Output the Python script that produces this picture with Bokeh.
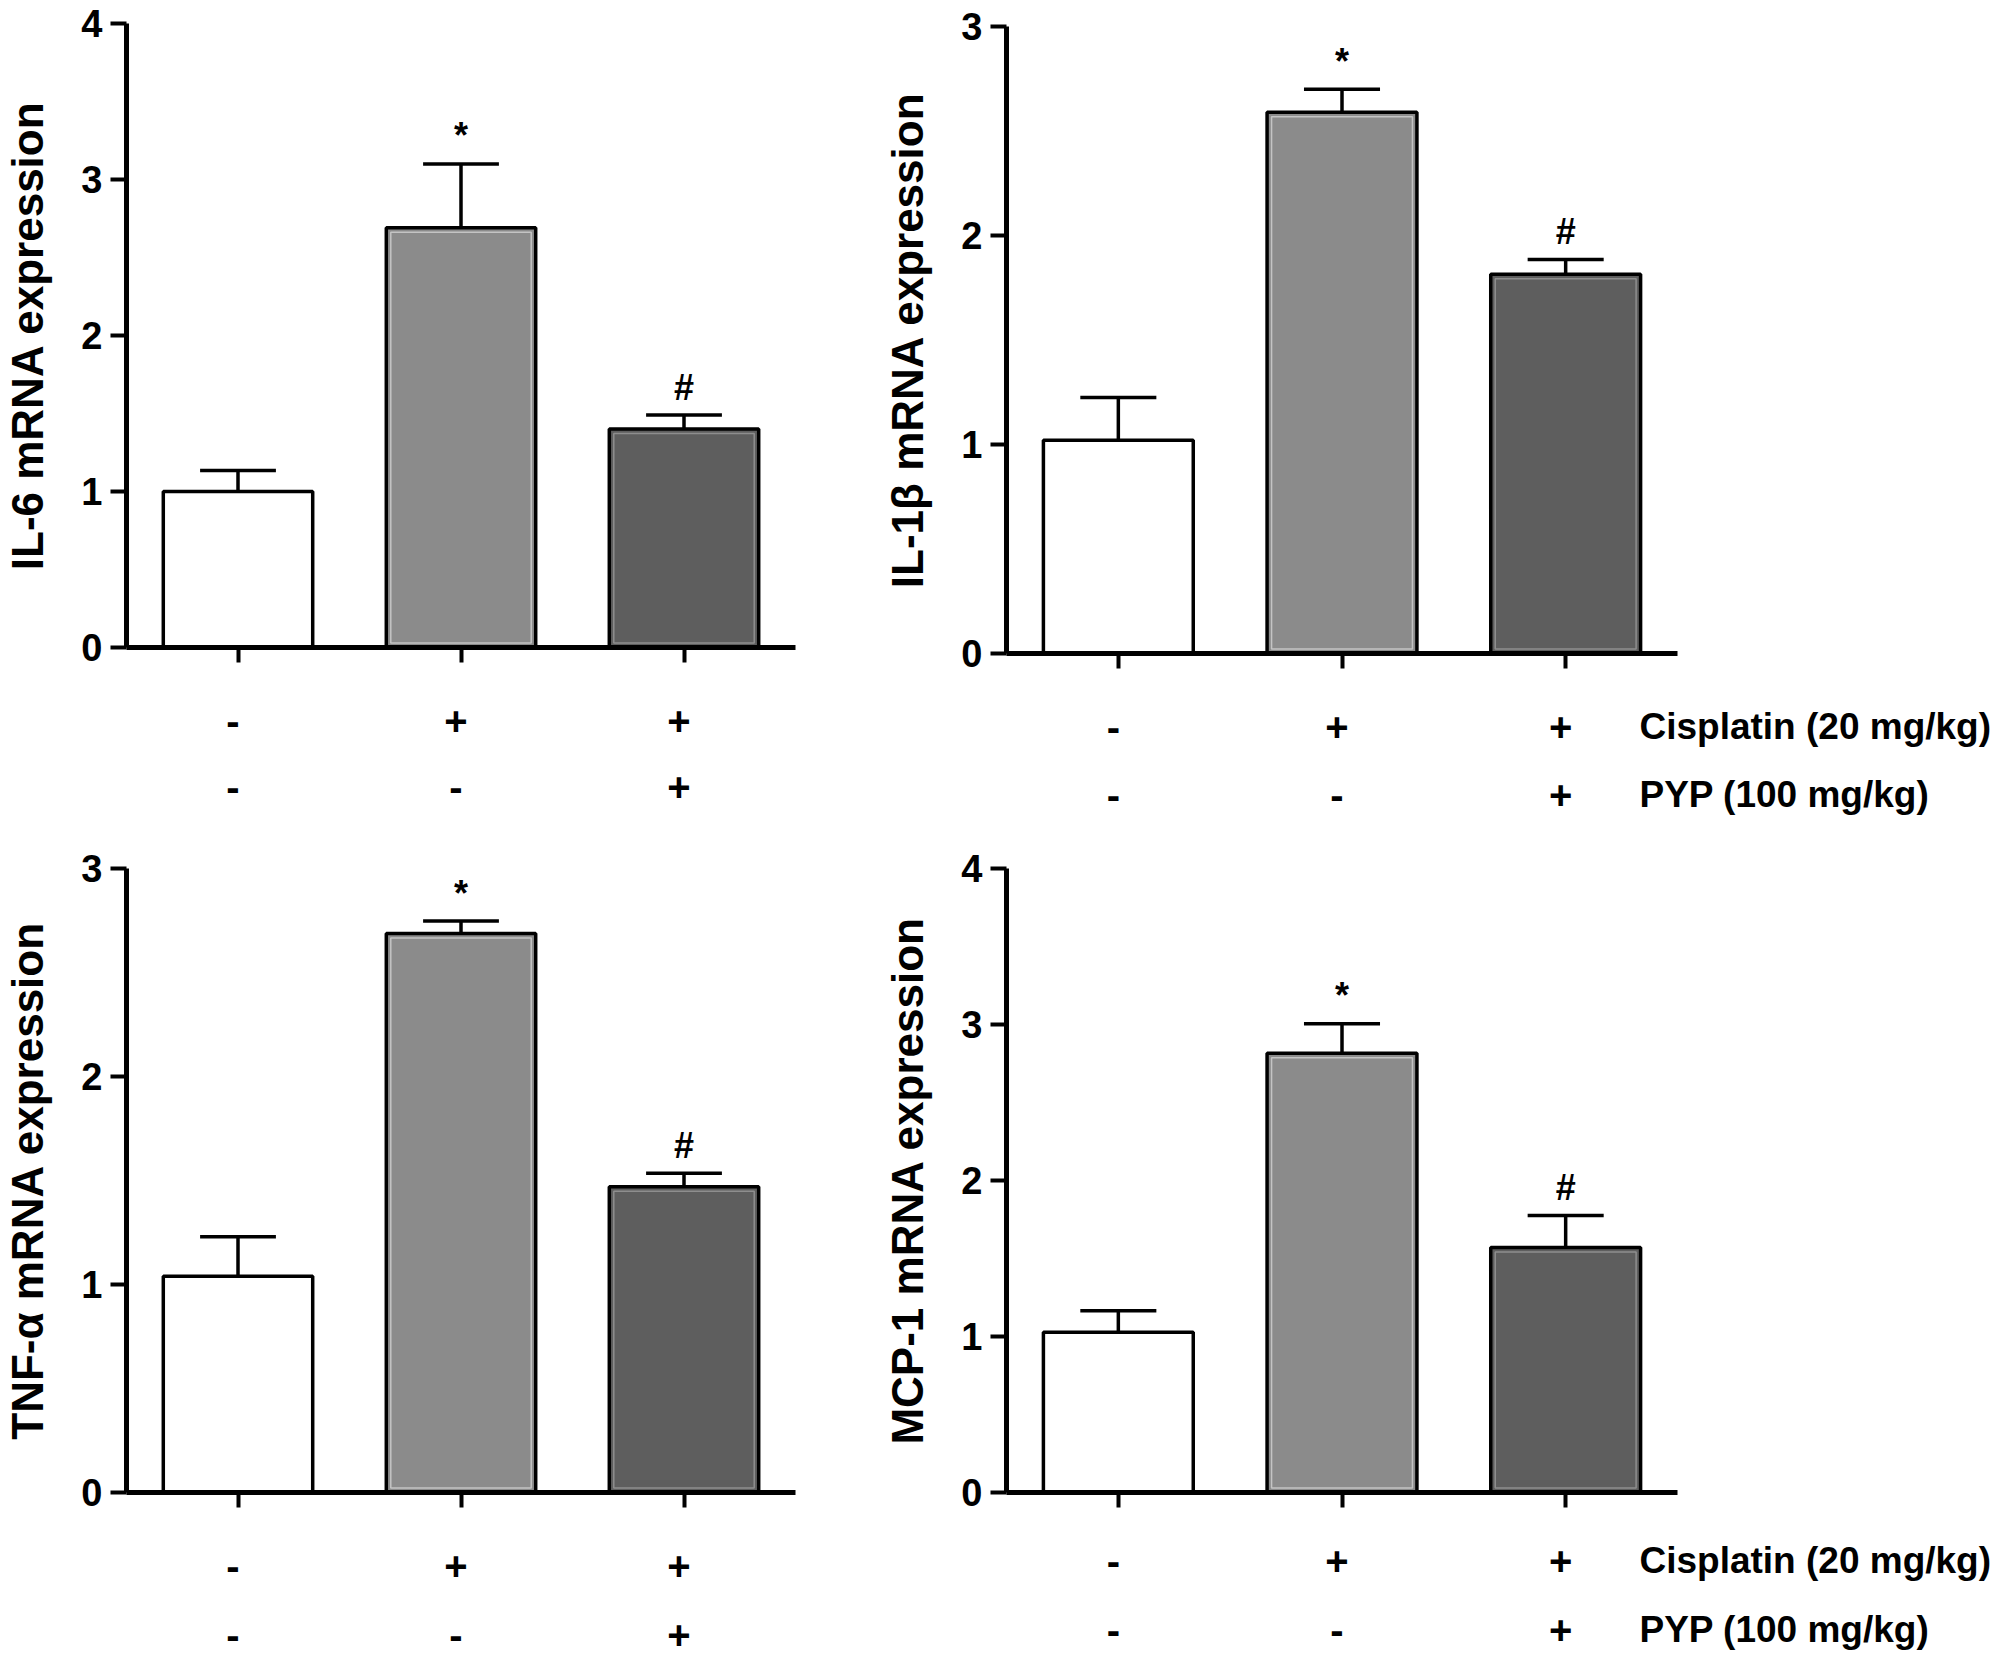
from bokeh.plotting import figure
from bokeh.models import Range1d, FixedTicker, ColumnDataSource
from bokeh.layouts import column, row
from bokeh.embed import file_html
from bokeh.resources import INLINE
from bokeh.core.properties import value

# ---------------- data ----------------
groups = ["Control", "Cisplatin", "Cisplatin + PYP"]
cisplatin_signs = ["-", "+", "+"]
pyp_signs = ["-", "-", "+"]
sig_marks = ["", "*", "#"]
row_names = ["Cisplatin (20 mg/kg)", "PYP (100 mg/kg)"]

il6_mean = [1.00, 2.69, 1.40]
il6_err = [0.135, 0.41, 0.09]
il1b_mean = [1.02, 2.59, 1.815]
il1b_err = [0.205, 0.11, 0.07]
tnf_mean = [1.04, 2.687, 1.47]
tnf_err = [0.19, 0.06, 0.065]
mcp1_mean = [1.027, 2.815, 1.57]
mcp1_err = [0.138, 0.19, 0.205]

bar_colors = ["#ffffff", "#8b8b8b", "#5e5e5e"]
inner_colors = [None, "#c4c4c4", "#8e8e8e"]

FONT = "Liberation Sans"
xpos = [1, 2, 3]
X0, X1 = 0.5, 3.5
BB = 25   # bottom border of bar figure (room for x ticks)
FW = 671  # pixel width of the 0.5..3.5 axis span
BW = 0.67


def bar_fig(ylabel, means, errs, ymax, bl, ext, br, bt, fh):
    # frame extends `ext` px to the right of the x-axis end (room for row names)
    x_end = X0 + (X1 - X0) * (FW + ext) / FW
    xr = Range1d(X0, x_end)
    p = figure(width=bl + FW + ext + br, height=bt + fh + BB,
               x_range=xr, y_range=Range1d(0, ymax),
               output_backend="svg", toolbar_location=None,
               min_border_left=bl, min_border_right=br,
               min_border_top=bt, min_border_bottom=BB)
    p.xgrid.visible = False
    p.ygrid.visible = False
    p.outline_line_color = None

    upu = ymax / fh            # data units per pixel (y)
    xpu = (X1 - X0) / FW       # data units per pixel (x)
    tops = [m + e for m, e in zip(means, errs)]
    src = ColumnDataSource(dict(x=xpos, mean=means, top=tops,
                                color=bar_colors, mark=sig_marks,
                                xl=[x - 0.17 for x in xpos],
                                xr=[x + 0.17 for x in xpos],
                                ym=[t + 28 * upu for t in tops]))
    p.vbar(x="x", top="mean", bottom=0, width=BW, source=src,
           fill_color="color", line_color="black", line_width=3.5)
    # faint light inner edge of the shaded bars
    isrc = ColumnDataSource(dict(x=xpos[1:], top=[m - 4.5 * upu for m in means[1:]],
                                 c=inner_colors[1:]))
    p.vbar(x="x", top="top", bottom=4.5 * upu, width=BW - 9 * xpu, source=isrc,
           fill_color=None, line_color="c", line_width=1.5)
    p.segment(x0="x", y0="mean", x1="x", y1="top", source=src,
              line_color="black", line_width=3.5)
    p.segment(x0="xl", y0="top", x1="xr", y1="top", source=src,
              line_color="black", line_width=3.5)
    p.text(x="x", y="ym", text="mark", source=src,
           text_font=value(FONT), text_font_size="36px",
           text_font_style="bold", text_align="center",
           text_baseline="middle", text_color="black")

    ya = p.yaxis[0]
    ya.ticker = FixedTicker(ticks=list(range(ymax + 1)))
    ya.axis_line_width = 5
    ya.major_tick_line_width = 4
    ya.major_tick_out = 16
    ya.major_tick_in = 0
    ya.minor_tick_out = 0
    ya.minor_tick_in = 0
    ya.major_label_standoff = 8
    ya.major_label_text_font = FONT
    ya.major_label_text_font_style = "bold"
    ya.major_label_text_font_size = "38px"
    ya.major_label_text_color = "black"
    ya.axis_label = ylabel
    ya.axis_label_text_font = FONT
    ya.axis_label_text_font_style = "bold"
    ya.axis_label_text_font_size = "44px"
    ya.axis_label_text_color = "black"
    ya.axis_label_standoff = 26

    xa = p.xaxis[0]
    xa.bounds = (X0, X1)
    xa.ticker = FixedTicker(ticks=xpos)
    xa.axis_line_width = 5
    xa.major_tick_line_width = 4
    xa.major_tick_out = 15
    xa.major_tick_in = 0
    xa.minor_tick_out = 0
    xa.minor_tick_in = 0
    xa.major_label_text_color = None
    xa.major_label_text_font_size = "1px"
    return p, xr


def row_fig(xr, bl, ext, br, h, row_y, show_names):
    q = figure(width=bl + FW + ext + br, height=h,
               x_range=xr, y_range=Range1d(h, 0),
               output_backend="svg", toolbar_location=None,
               min_border_left=bl, min_border_right=br,
               min_border_top=0, min_border_bottom=0)
    q.axis.visible = False
    q.grid.visible = False
    q.outline_line_color = None
    xs, ys, ts = [], [], []
    for k, signs in enumerate([cisplatin_signs, pyp_signs]):
        xs += xpos
        ys += [row_y[k]] * len(xpos)
        ts += signs
    q.text(x=xs, y=ys, text=ts, x_offset=-5, text_font=value(FONT),
           text_font_style="bold", text_font_size="40px",
           text_align="center", text_baseline="middle", text_color="black")
    if show_names:
        q.text(x=[3.33, 3.33], y=row_y, text=row_names, text_font=value(FONT),
               text_font_style="bold", text_font_size="37px",
               text_align="left", text_baseline="middle", text_color="black")
    return q


TOP_H = 830
TOTAL_H = 1665
# left column: 124 + 671 + 0 + 84 = 879 ; right column: 127 + 671 + 322 + 9 = 1129

b1, x1 = bar_fig("IL-6 mRNA expression", il6_mean, il6_err, 4, 124, 0, 84, 23, 624)
r1 = row_fig(x1, 124, 0, 84, TOP_H - (23 + 624 + BB), [48, 114], False)

b2, x2 = bar_fig("IL-1\u03b2 mRNA expression", il1b_mean, il1b_err, 3, 127, 322, 9, 26, 627)
r2 = row_fig(x2, 127, 322, 9, TOP_H - (26 + 627 + BB), [48, 116], True)

b3, x3 = bar_fig("TNF-\u03b1 mRNA expression", tnf_mean, tnf_err, 3, 124, 0, 84, 38, 624)
r3 = row_fig(x3, 124, 0, 84, TOTAL_H - TOP_H - (38 + 624 + BB), [48, 117], False)

b4, x4 = bar_fig("MCP-1 mRNA expression", mcp1_mean, mcp1_err, 4, 127, 322, 9, 38, 624)
r4 = row_fig(x4, 127, 322, 9, TOTAL_H - TOP_H - (38 + 624 + BB), [43, 112], True)

layout = column(row(column(b1, r1), column(b2, r2)),
                row(column(b3, r3), column(b4, r4)))
open("out.html", "w").write(file_html(layout, INLINE))
